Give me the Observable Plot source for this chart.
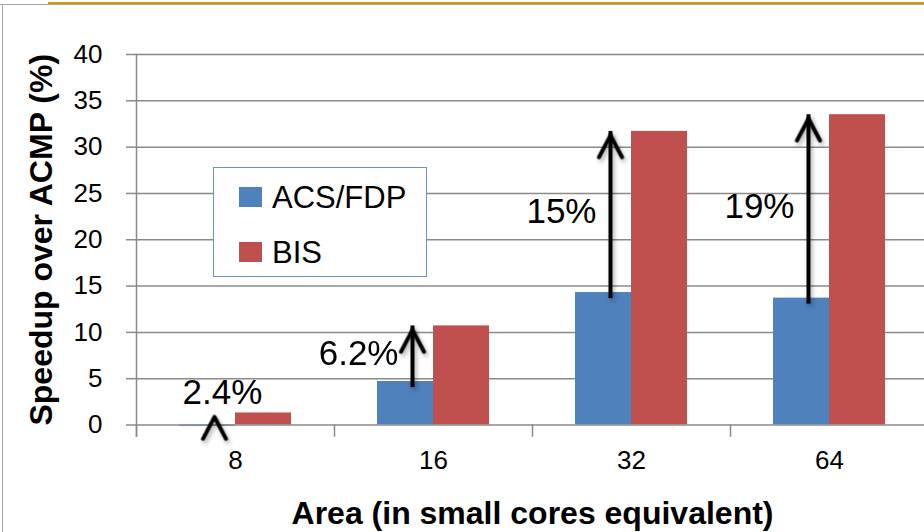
<!DOCTYPE html>
<html>
<head>
<meta charset="utf-8">
<script src="https://cdn.jsdelivr.net/npm/d3@7"></script>
<script src="https://cdn.jsdelivr.net/npm/@observablehq/plot@0.6"></script>
<style>
  html, body { margin: 0; padding: 0; background: #fff; }
  #wrap { position: relative; width: 924px; height: 532px; overflow: hidden; font-family: "Liberation Sans", Arial, sans-serif; }
  #gold { position: absolute; left: 48px; top: 2px; width: 876px; height: 2px; background: #CC9E00; }
  #topline { position: absolute; left: 0; top: 4px; width: 924px; height: 1px; background: #a6a6a6; }
  #leftline { position: absolute; left: 2px; top: 4px; width: 1px; height: 528px; background: #a6a6a6; }
  #chart { position: absolute; left: 0; top: 0; }
  #legend { position: absolute; left: 213px; top: 167px; width: 212px; height: 108px; border: 1.5px solid #6a93c9; background: #fff; }
  .row { position: absolute; left: 0; height: 55px; display: flex; align-items: center; }
  .sw { width: 23px; height: 20px; margin-left: 25px; margin-right: 10px; }
  .lab { font-size: 31px; line-height: 1; color: #000; }
</style>
</head>
<body>
<div id="wrap">
  <div id="chart"></div>
  <div id="gold"></div>
  <div id="topline"></div>
  <div id="leftline"></div>
  <div id="legend"></div>
</div>
<script>
const categories = ["8", "16", "32", "64"];
const series = ["ACS/FDP", "BIS"];
const acsFdp = [-0.15, 4.7, 14.3, 13.7];
const bis = [1.3, 10.7, 31.7, 33.5];
const gainLabels = ["2.4%", "6.2%", "15%", "19%"];
const yTicks = [0, 5, 10, 15, 20, 25, 30, 35, 40];
const seriesColors = ["#4F81BD", "#C0504D"];
const xTitle = "Area (in small cores equivalent)";
const yTitle = "Speedup over ACMP (%)";

const bars = categories.flatMap((c, i) => [
  {cat: c, s: series[0], v: acsFdp[i]},
  {cat: c, s: series[1], v: bis[i]}
]);
const gains = categories.map((c, i) => ({cat: c, s: series[0], from: acsFdp[i], to: bis[i], label: gainLabels[i]}));
const isLong = d => d.to - d.from > 3;

const W = 924, H = 532, MT = 54, MB = 107.5, ML = 134, MR = -5;
const frameH = H - MT - MB;
const grid = "#8a8a8a";

const chevron = {
  draw(ctx, size) {
    const r = Math.sqrt(size / Math.PI);
    ctx.moveTo(-r, 1.9 * r);
    ctx.lineTo(0, 0);
    ctx.lineTo(r, 1.9 * r);
  }
};

const chart = Plot.plot({
  width: W, height: H,
  marginTop: MT, marginBottom: MB, marginLeft: ML, marginRight: MR,
  style: {fontFamily: "Liberation Sans, Arial, sans-serif", color: "#000", background: "transparent"},
  fx: {domain: categories, padding: 0, label: null},
  x: {domain: series, paddingInner: 0, paddingOuter: 0.76, axis: null},
  y: {domain: [0, 40]},
  color: {domain: series, range: seriesColors},
  marks: [
    Plot.ruleY(yTicks.filter(t => t > 0), {stroke: grid, strokeWidth: 1.5}),
    Plot.barY(bars, {fx: "cat", x: "s", y: "v", fill: "s"}),
    Plot.ruleY([0], {stroke: grid, strokeWidth: 1.5}),
    Plot.frame({anchor: "left", stroke: grid, strokeWidth: 1.5, insetTop: frameH, insetBottom: -11}),
    Plot.frame({anchor: "left", stroke: grid, strokeWidth: 1.5, insetBottom: -11, fx: [categories[0]]}),
    Plot.axisY({ticks: yTicks, tickSize: 10, tickPadding: 24, fontSize: 26, stroke: grid, strokeWidth: 1.5, label: null}),
    Plot.axisY({ticks: [], label: yTitle, labelAnchor: "center", labelOffset: 107, labelArrow: "none", fontSize: 32, fontWeight: "bold"}),
    Plot.axisFx({anchor: "bottom", tickSize: 0, tickPadding: 25.5, fontSize: 26, label: null}),
    Plot.axisFx({anchor: "bottom", ticks: [], label: xTitle, labelAnchor: "center", labelOffset: 98.5, labelArrow: "none", fontSize: 32, fontWeight: "bold"}),
    Plot.ruleX(gains.filter(isLong), {fx: "cat", x: "s", y1: "from", y2: "to", stroke: "#000", strokeWidth: 4, dx: 7, insetTop: 6, ariaDescription: "gain-shaft"}),
    Plot.dot(gains, {fx: "cat", x: "s", y: "to", symbol: chevron, r: 11.5, stroke: "#000", strokeWidth: 4, fill: "none", dx: 7, dy: 4, strokeLinejoin: "round", strokeLinecap: "round", ariaDescription: "gain-head"}),
    Plot.text(gains.filter(isLong), {fx: "cat", x: "s", y: d => (d.from + d.to) / 2, text: "label", textAnchor: "end", lineAnchor: "middle", dx: -7, fontSize: 35, fill: "#000"}),
    Plot.text(gains.filter(d => !isLong(d)), {fx: "cat", x: "s", y: "to", text: "label", textAnchor: "middle", lineAnchor: "bottom", dx: 15, dy: -9, fontSize: 35, fill: "#000"})
  ]
});
chart.querySelectorAll('[aria-description="gain-shaft"], [aria-description="gain-head"]').forEach(g => {
  g.style.filter = "drop-shadow(2px 3px 2px rgba(0,0,0,0.3))";
});
document.getElementById("chart").appendChild(chart);

const legend = document.getElementById("legend");
series.forEach((s, i) => {
  const row = document.createElement("div");
  row.className = "row";
  row.style.top = (1.5 + i * 55) + "px";
  const sw = document.createElement("div");
  sw.className = "sw";
  sw.style.background = seriesColors[i];
  const lab = document.createElement("span");
  lab.className = "lab";
  lab.textContent = s;
  row.appendChild(sw);
  row.appendChild(lab);
  legend.appendChild(row);
});
</script>
</body>
</html>
